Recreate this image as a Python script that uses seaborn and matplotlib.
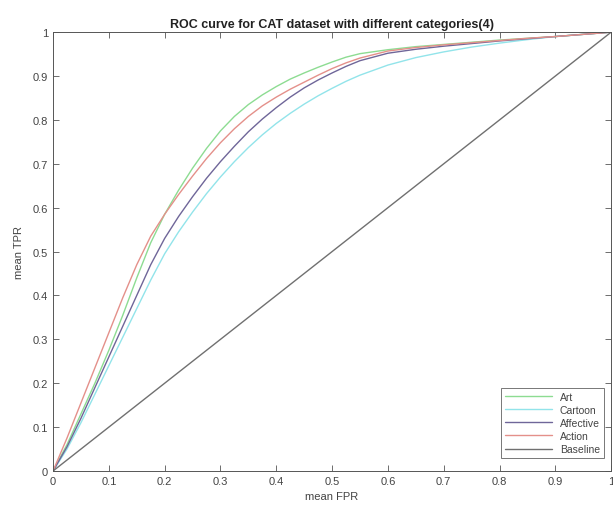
import numpy as np
import pandas as pd
import matplotlib
matplotlib.use("Agg")
import matplotlib.pyplot as plt
import seaborn as sns
from matplotlib.ticker import FuncFormatter

fpr = [0, 0.025, 0.05, 0.075, 0.1, 0.125, 0.15, 0.175, 0.2, 0.225, 0.25, 0.275, 0.3,
       0.325, 0.35, 0.375, 0.4, 0.425, 0.45, 0.475, 0.5, 0.525, 0.55, 0.6, 0.65, 0.7,
       0.75, 0.8, 0.85, 0.9, 0.95, 1.0]
art = [0, 0.06, 0.13, 0.20, 0.275, 0.355, 0.44, 0.52, 0.585, 0.64, 0.69, 0.735, 0.775,
       0.808, 0.835, 0.857, 0.876, 0.893, 0.907, 0.92, 0.932, 0.943, 0.951, 0.96, 0.967,
       0.972, 0.977, 0.982, 0.986, 0.99, 0.995, 1.0]
cartoon = [0, 0.05, 0.11, 0.175, 0.24, 0.305, 0.37, 0.435, 0.495, 0.545, 0.59, 0.632, 0.67,
           0.705, 0.737, 0.766, 0.792, 0.815, 0.836, 0.855, 0.872, 0.888, 0.902, 0.925, 0.942,
           0.955, 0.966, 0.975, 0.983, 0.99, 0.995, 1.0]
affective = [0, 0.055, 0.12, 0.19, 0.26, 0.33, 0.40, 0.47, 0.53, 0.58, 0.625, 0.667, 0.705,
             0.74, 0.773, 0.802, 0.828, 0.852, 0.873, 0.891, 0.907, 0.922, 0.935, 0.952,
             0.961, 0.968, 0.974, 0.98, 0.985, 0.99, 0.995, 1.0]
action = [0, 0.075, 0.155, 0.235, 0.315, 0.395, 0.47, 0.535, 0.585, 0.63, 0.672, 0.712, 0.748,
          0.78, 0.808, 0.832, 0.852, 0.87, 0.886, 0.902, 0.917, 0.93, 0.941, 0.957, 0.965,
          0.971, 0.976, 0.981, 0.986, 0.99, 0.995, 1.0]
baseline_x = [0, 1]
baseline_y = [0, 1]

series_names = ["Art", "Cartoon", "Affective", "Action", "Baseline"]
colors = ["#8ddc92", "#92e4ea", "#6f6699", "#e4908a", "#707070"]

rows = []
for name, ys in zip(series_names[:4], [art, cartoon, affective, action]):
    for x, y in zip(fpr, ys):
        rows.append({"fpr": x, "tpr": y, "series": name})
for x, y in zip(baseline_x, baseline_y):
    rows.append({"fpr": x, "tpr": y, "series": "Baseline"})
df = pd.DataFrame(rows)

sns.set_style("white")
plt.rcParams['font.family'] = ['Liberation Sans', 'DejaVu Sans']

fig = plt.figure(figsize=(6.13, 5.10), dpi=100)
ax = fig.add_axes([0.0865, 0.0745, 0.9105, 0.8605])

sns.lineplot(data=df, x="fpr", y="tpr", hue="series", hue_order=series_names,
             palette=dict(zip(series_names, colors)), linewidth=1.0,
             sort=False, estimator=None, ax=ax)

ax.set_xlim(0, 1)
ax.set_ylim(0, 1)
ticks = np.round(np.arange(0, 1.01, 0.1), 1)
ax.set_xticks(ticks)
ax.set_yticks(ticks)
fmt = FuncFormatter(lambda v, p: "0" if abs(v) < 1e-9 else ("1" if abs(v - 1) < 1e-9 else f"{v:.1f}"))
ax.xaxis.set_major_formatter(fmt)
ax.yaxis.set_major_formatter(fmt)
ax.tick_params(direction="in", length=4, width=0.6, color="#555555", labelsize=8,
               labelcolor="#444444", top=True, right=True, bottom=True, left=True)
for s in ax.spines.values():
    s.set_visible(True)
    s.set_color("#555555")
    s.set_linewidth(0.7)

ax.set_xlabel("mean FPR", fontsize=8, color="#444444", labelpad=4)
ax.set_ylabel("mean TPR", fontsize=8, color="#444444", labelpad=6)
ax.set_title("ROC curve for CAT dataset with different categories(4)", fontsize=9,
             fontweight="bold", color="#222222", pad=4)

leg = ax.legend(loc="lower right", fontsize=7.5, frameon=True, fancybox=False,
                edgecolor="#555555", handlelength=4.5, borderpad=0.35,
                labelspacing=0.3, bbox_to_anchor=(0.996, 0.018))
leg.get_frame().set_linewidth(0.7)
for t in leg.get_texts():
    t.set_color("#444444")

fig.savefig("out.png", dpi=100)
